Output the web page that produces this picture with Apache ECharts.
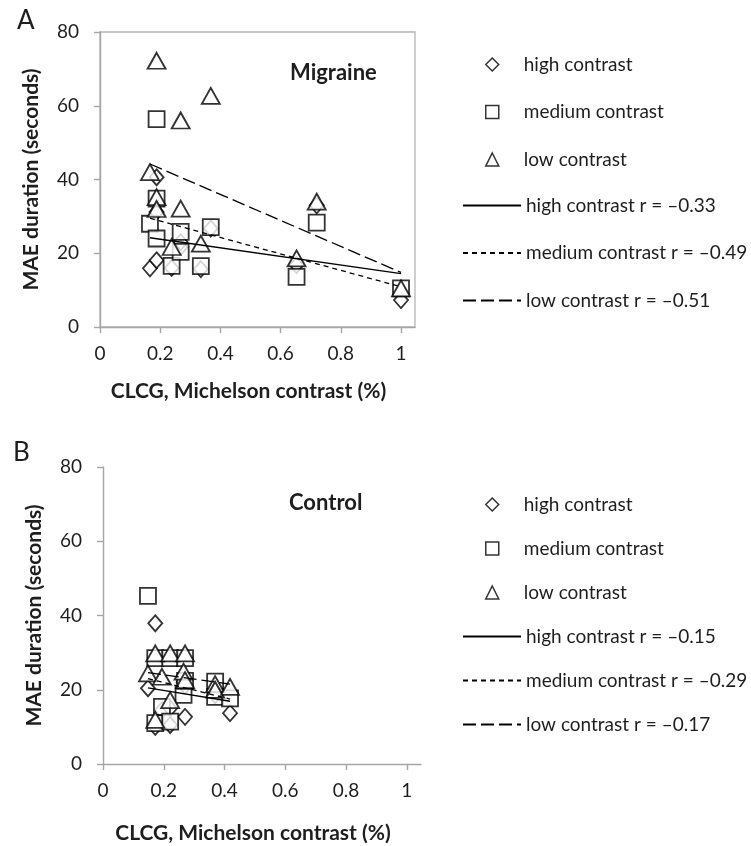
<!DOCTYPE html>
<html>
<head>
<meta charset="utf-8">
<script src="https://cdn.jsdelivr.net/npm/echarts@6/dist/echarts.min.js"></script>
<style>
html,body{margin:0;padding:0;background:#fff;}
#chart{width:751px;height:846px;}
</style>
</head>
<body>
<div id="chart"></div>
<script>
// ---- Panel A: Migraine ----
var migraineX      = [0.166, 0.188, 0.188, 0.188, 0.238, 0.268, 0.268, 0.335, 0.368, 0.653, 0.72, 1.0];
var migraineHigh   = [15.9, 40.6, 31.2, 18.1, 16.0, 21.7, 23.0, 15.7, 26.7, 16.8, 33.0, 7.3];
var migraineMedium = [28.0, 56.4, 34.8, 24.0, 16.6, 25.8, 20.4, 16.5, 27.1, 13.6, 28.3, 10.5];
var migraineLow    = [42.0, 72.2, 35.2, 32.0, 21.7, 56.0, 32.1, 22.6, 62.7, 18.6, 34.0, 10.5];
var migraineTrendHigh   = [[0.166, 24.2], [1.0, 14.5]];
var migraineTrendMedium = [[0.166, 29.5], [1.0, 10.9]];
var migraineTrendLow    = [[0.166, 44.2], [1.0, 14.8]];
var migraineR = ['–0.33', '–0.49', '–0.51'];

// ---- Panel B: Control ----
var controlX      = [0.148, 0.172, 0.172, 0.194, 0.221, 0.221, 0.27, 0.265, 0.27, 0.369, 0.369, 0.418];
var controlHigh   = [20.4, 37.9, 10.0, 14.5, 10.5, 15.0, 12.7, 22.0, 21.0, 19.5, 18.5, 13.7];
var controlMedium = [45.3, 28.5, 11.0, 15.4, 28.5, 11.4, 28.5, 18.6, 22.4, 22.2, 18.1, 17.7];
var controlLow    = [24.4, 29.8, 11.9, 23.5, 29.8, 17.2, 29.8, 24.9, 22.6, 21.5, 20.0, 20.8];
var controlTrendHigh   = [[0.148, 20.5], [0.418, 16.9]];
var controlTrendMedium = [[0.148, 23.0], [0.418, 17.5]];
var controlTrendLow    = [[0.148, 24.6], [0.418, 21.5]];
var controlR = ['–0.15', '–0.29', '–0.17'];

// ---- axes ----
var xTicks = [0, 0.2, 0.4, 0.6, 0.8, 1];
var yTicks = [0, 20, 40, 60, 80];
var contrastNames = ['high contrast', 'medium contrast', 'low contrast'];

function pairs(xs, ys) { return xs.map(function (x, i) { return [x, ys[i]]; }); }

var FONT = 'Lato';
var axisGray = '#a6a6a6';
var textColor = '#1e1e1e';

function xAxisFor(gi, nameGap) {
  return {
    type: 'value', gridIndex: gi, min: 0, max: 1.0465,
    axisLine: { show: true, lineStyle: { color: axisGray, width: 1.4 } },
    axisTick: { show: true, length: 6, lineStyle: { color: axisGray, width: 1.4 }, customValues: xTicks },
    axisLabel: { customValues: xTicks, margin: 17, fontFamily: FONT, fontSize: 19, color: textColor,
      formatter: function (v) { return String(+v.toFixed(1)); } },
    splitLine: { show: false },
    name: 'CLCG, Michelson contrast (%)', nameLocation: 'middle', nameGap: nameGap,
    nameTextStyle: { fontFamily: FONT, fontWeight: 'bold', fontSize: 21, color: textColor, padding: [0, 18, 0, 0] }
  };
}
function yAxisFor(gi) {
  return {
    type: 'value', gridIndex: gi, min: 0, max: 80, interval: 20,
    axisLine: { show: true, lineStyle: { color: axisGray, width: 1.4 } },
    axisTick: { show: true, length: 6, lineStyle: { color: axisGray, width: 1.4 } },
    axisLabel: { margin: 21, fontFamily: FONT, fontSize: 19, color: textColor },
    splitLine: { show: false },
    name: 'MAE duration (seconds)', nameLocation: 'middle', nameGap: 58,
    nameTextStyle: { fontFamily: FONT, fontWeight: 'bold', fontSize: 21, color: textColor }
  };
}

var markerStyle = { color: '#ffffff', borderColor: '#000000', borderWidth: 1.8 };
var symbols = ['diamond', 'rect', 'triangle'];
var symbolSizes = [[14, 16], [16, 16], [18, 16]];
var lineTypes = ['solid', [5, 4], [13, 5]];

function panelSeries(gi, xs, highs, meds, lows, trends, rs) {
  var vals = [highs, meds, lows];
  var out = [];
  for (var i = 0; i < 3; i++) {
    out.push({
      type: 'scatter', name: contrastNames[i], xAxisIndex: gi, yAxisIndex: gi,
      symbol: symbols[i], symbolSize: symbolSizes[i], itemStyle: markerStyle,
      data: pairs(xs, vals[i]), z: 2
    });
  }
  for (var j = 0; j < 3; j++) {
    out.push({
      type: 'line', name: contrastNames[j] + ' r = ' + rs[j], xAxisIndex: gi, yAxisIndex: gi,
      symbol: 'none', showSymbol: false, silent: true,
      lineStyle: { color: '#000', width: 1.3, type: lineTypes[j] },
      itemStyle: { color: '#000' },
      data: trends[j], z: 3
    });
  }
  return out;
}

// scatter-symbol legend (square icon box so symbols keep their shape)
function symbolLegend(top, gap) {
  return {
    orient: 'vertical', left: 485, top: top, padding: 0, itemGap: gap,
    itemWidth: 13, itemHeight: 13,
    textStyle: { fontFamily: FONT, fontSize: 19, color: textColor, padding: [0, 0, 0, 20] },
    data: contrastNames.map(function (n) { return { name: n, itemStyle: { borderWidth: 1.5 } }; }),
    selectedMode: false
  };
}
// trend-line legend
function lineLegend(top, gap, rs) {
  return {
    orient: 'vertical', left: 462, top: top, padding: 0, itemGap: gap,
    itemWidth: 58, itemHeight: 13,
    textStyle: { fontFamily: FONT, fontSize: 19, color: textColor },
    data: contrastNames.map(function (n, k) {
      return { name: n + ' r = ' + rs[k], itemStyle: { opacity: 0 } };
    }),
    selectedMode: false
  };
}

var chart = echarts.init(document.getElementById('chart'), null, { renderer: 'canvas' });
chart.setOption({
  animation: false,
  backgroundColor: '#fff',
  grid: [
    { left: 100, top: 32, width: 315, height: 295, show: true, borderColor: '#b5b5b5', borderWidth: 1.3, backgroundColor: 'transparent' },
    { left: 103, top: 467, width: 318, height: 297 }
  ],
  xAxis: [xAxisFor(0, 54), xAxisFor(1, 59)],
  yAxis: [yAxisFor(0), yAxisFor(1)],
  legend: [
    symbolLegend(55, 28.5), lineLegend(196, 28.5, migraineR),
    symbolLegend(495, 25), lineLegend(627, 25, controlR)
  ],
  graphic: [
    { type: 'text', left: 17, top: 8, style: { text: 'A', font: '26px ' + FONT, fill: textColor } },
    { type: 'text', left: 13, top: 440, style: { text: 'B', font: '26px ' + FONT, fill: textColor } },
    { type: 'text', left: 290, top: 62, style: { text: 'Migraine', font: 'bold 22px ' + FONT, fill: textColor } },
    { type: 'text', left: 289, top: 492, style: { text: 'Control', font: 'bold 22px ' + FONT, fill: textColor } }
  ],
  series: panelSeries(0, migraineX, migraineHigh, migraineMedium, migraineLow,
                      [migraineTrendHigh, migraineTrendMedium, migraineTrendLow], migraineR)
    .concat(panelSeries(1, controlX, controlHigh, controlMedium, controlLow,
                      [controlTrendHigh, controlTrendMedium, controlTrendLow], controlR))
});
</script>
</body>
</html>
